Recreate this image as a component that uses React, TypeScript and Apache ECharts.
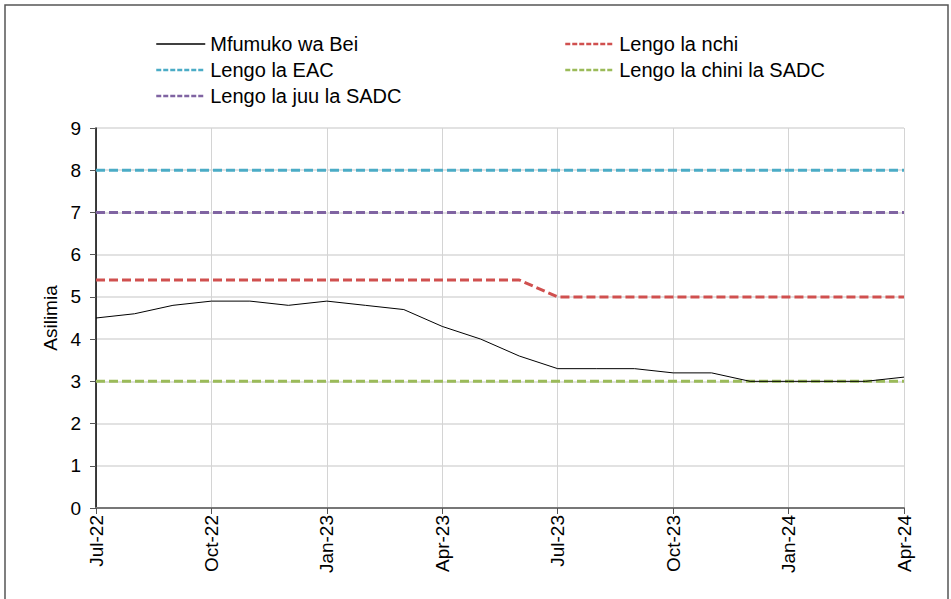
import React, { useEffect, useRef } from "react";
import * as echarts from "echarts";

const months = [
  "Jul-22", "Aug-22", "Sep-22", "Oct-22", "Nov-22", "Dec-22",
  "Jan-23", "Feb-23", "Mar-23", "Apr-23", "May-23", "Jun-23",
  "Jul-23", "Aug-23", "Sep-23", "Oct-23", "Nov-23", "Dec-23",
  "Jan-24", "Feb-24", "Mar-24", "Apr-24",
];
const inflation = [4.5, 4.6, 4.8, 4.9, 4.9, 4.8, 4.9, 4.8, 4.7, 4.3, 4.0, 3.6, 3.3, 3.3, 3.3, 3.2, 3.2, 3.0, 3.0, 3.0, 3.0, 3.1];
const nationalTarget = [5.4, 5.4, 5.4, 5.4, 5.4, 5.4, 5.4, 5.4, 5.4, 5.4, 5.4, 5.4, 5.0, 5.0, 5.0, 5.0, 5.0, 5.0, 5.0, 5.0, 5.0, 5.0];
const eacTarget = [8, 8, 8, 8, 8, 8, 8, 8, 8, 8, 8, 8, 8, 8, 8, 8, 8, 8, 8, 8, 8, 8];
const sadcLower = [3, 3, 3, 3, 3, 3, 3, 3, 3, 3, 3, 3, 3, 3, 3, 3, 3, 3, 3, 3, 3, 3];
const sadcUpper = [7, 7, 7, 7, 7, 7, 7, 7, 7, 7, 7, 7, 7, 7, 7, 7, 7, 7, 7, 7, 7, 7];
const yTicks = [0, 9, 1];

const seriesNames = [
  "Mfumuko wa Bei",
  "Lengo la nchi",
  "Lengo la EAC",
  "Lengo la chini la SADC",
  "Lengo la juu la SADC",
];

const FONT = "'Liberation Sans', Arial, Helvetica, sans-serif";
const dash = [9, 4];

export default function App() {
  const ref = useRef<HTMLDivElement>(null);
  useEffect(() => {
    if (!ref.current) return;
    const chart = echarts.init(ref.current, null, { renderer: "svg" });
    const dashed = (name: string, data: number[], color: string) => ({
      name,
      type: "line",
      data,
      symbol: "none",
      lineStyle: { color, width: 3, type: dash },
      itemStyle: { color },
      z: 3,
    });
    const legendText = { fontFamily: FONT, fontSize: 20, color: "#000" };
    const legendBase = {
      orient: "vertical",
      top: 34,
      padding: 0,
      itemWidth: 49,
      itemHeight: 14,
      itemGap: 6,
      textStyle: legendText,
      selectedMode: false,
      itemStyle: { opacity: 0 },
      lineStyle: { width: 2.5, type: [5, 2] },
    };
    chart.setOption({
      animation: false,
      backgroundColor: "#fff",
      textStyle: { fontFamily: FONT },
      graphic: [
        {
          type: "rect",
          shape: { x: 5, y: 5, width: 943, height: 600 },
          style: { fill: "none", stroke: "#555", lineWidth: 1.5 },
          silent: true,
        },
      ],
      legend: [
        {
          ...legendBase,
          left: 155,
          data: [
            { name: seriesNames[0], itemStyle: { opacity: 0 }, lineStyle: { type: "solid", width: 1.5 } },
            seriesNames[2],
            seriesNames[4],
          ],
        },
        { ...legendBase, left: 564, data: [seriesNames[1], seriesNames[3]] },
      ],
      grid: { left: 96, right: 47, top: 128, bottom: 91, containLabel: false },
      xAxis: {
        type: "category",
        data: months,
        boundaryGap: false,
        axisLine: { lineStyle: { color: "#777", width: 2 } },
        axisTick: { interval: 2, length: 6, lineStyle: { color: "#555" } },
        axisLabel: {
          interval: 2,
          rotate: 90,
          fontSize: 19,
          color: "#000",
          fontFamily: FONT,
          margin: 7,
        },
        splitLine: { show: true, interval: 2, lineStyle: { color: "#d4d4d4", width: 1 } },
      },
      yAxis: {
        type: "value",
        min: yTicks[0],
        max: yTicks[1],
        interval: yTicks[2],
        name: "Asilimia",
        nameLocation: "middle",
        nameGap: 33,
        nameTextStyle: { fontSize: 19, color: "#000", fontFamily: FONT },
        axisLine: { show: true, lineStyle: { color: "#000", width: 1.5 } },
        axisTick: { show: true, length: 6, lineStyle: { color: "#555" } },
        axisLabel: { fontSize: 19, color: "#000", fontFamily: FONT, margin: 15 },
        splitLine: { show: true, lineStyle: { color: "#d9d9d9", width: 1.5 } },
      },
      series: [
        {
          name: seriesNames[0],
          type: "line",
          data: inflation,
          symbol: "none",
          lineStyle: { color: "#000", width: 1 },
          itemStyle: { color: "#000" },
          z: 4,
        },
        dashed(seriesNames[1], nationalTarget, "#d0504f"),
        dashed(seriesNames[2], eacTarget, "#4bacc6"),
        dashed(seriesNames[3], sadcLower, "#9bbb59"),
        dashed(seriesNames[4], sadcUpper, "#8064a2"),
      ],
    });
    return () => chart.dispose();
  }, []);
  return (
    <div
      ref={ref}
      style={{ position: "fixed", left: 0, top: 0, width: 951, height: 599 }}
    />
  );
}
